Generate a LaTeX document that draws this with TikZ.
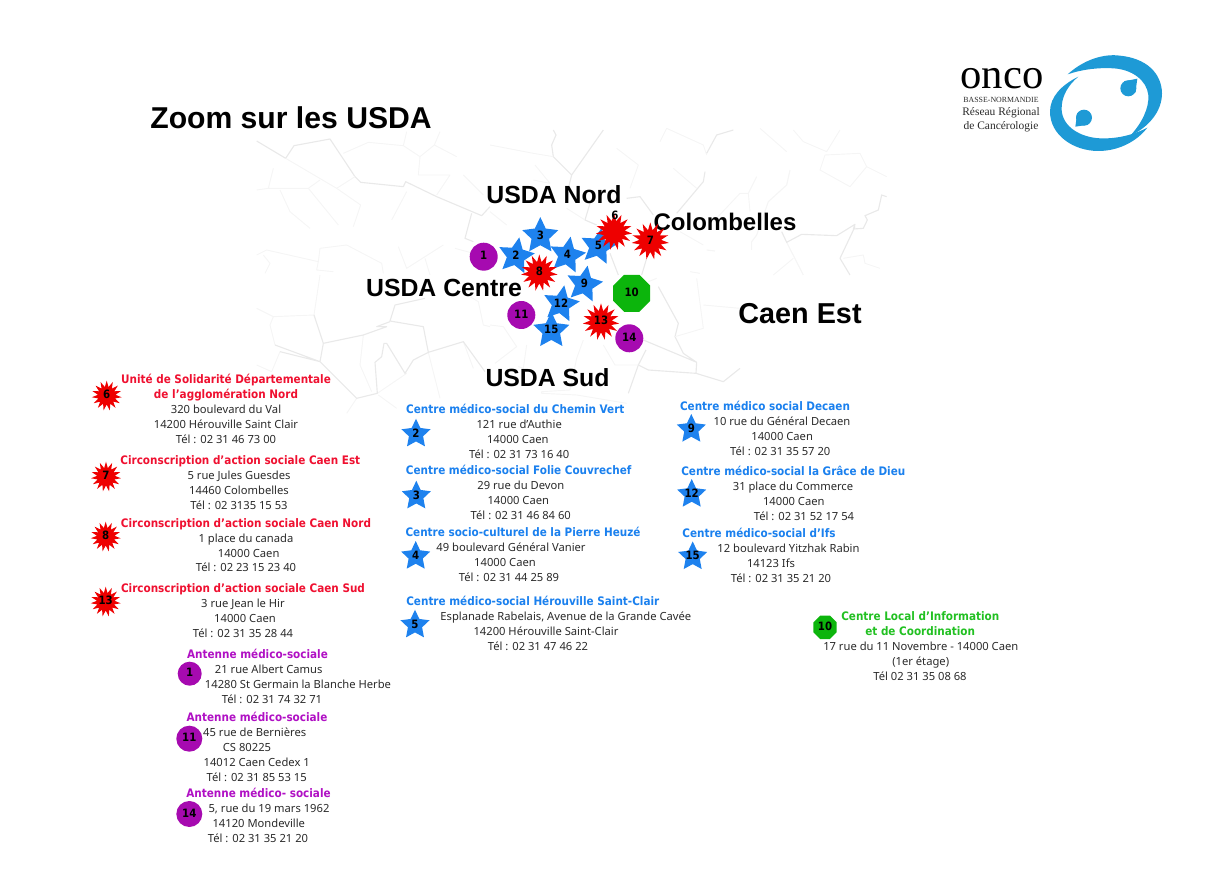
\documentclass[tikz,border=0pt]{standalone}
\usepackage{fontspec}
\setmainfont{Noto Sans}
\newfontfamily\arialfont{Liberation Sans}
\newfontfamily\timesfont{Liberation Serif}
\newfontfamily\headfont[FakeStretch=0.89]{DejaVu Sans}
\usetikzlibrary{shapes.geometric}
\definecolor{mstrong}{HTML}{E9E9E9}
\definecolor{mfaint}{HTML}{F5F5F5}
\definecolor{cblue}{HTML}{1E82EE}
\definecolor{cred}{HTML}{EE0000}
\definecolor{cpurple}{HTML}{A60AB0}
\definecolor{cgreen}{HTML}{0CB50C}
\definecolor{tred}{HTML}{EF1030}
\definecolor{tblue}{HTML}{1A80EE}
\definecolor{tpurple}{HTML}{B010C4}
\definecolor{tgreen}{HTML}{22C022}
\definecolor{body}{HTML}{2A2A2A}
\definecolor{logoc}{HTML}{1E9AD6}
\newcommand\nm[1]{\raisebox{-.5ex}[0pt][0pt]{\makebox[0pt]{#1}}}
\tikzset{
  mapstrong/.style={draw=mstrong,line width=.85pt,line join=round},
  mapfaint/.style={draw=mfaint,line width=.7pt,line join=round},
  tile/.style={x=.25pt,y=-.25pt},
  txt/.style={inner sep=0,outer sep=0,text height=7pt,text depth=2pt,anchor=center},
  bodyl/.style={txt,text=body,font=\fontsize{8.4}{10}\selectfont},
  headl/.style={txt,font=\headfont\bfseries\fontsize{8.8}{10}\selectfont},
  hred/.style={headl,text=tred},
  hblue/.style={headl,text=tblue},
  hpurple/.style={headl,text=tpurple},
  hgreen/.style={headl,text=tgreen},
  bigl/.style={inner sep=0,outer sep=0,text=black,font=\arialfont\bfseries\fontsize{18.6}{20}\selectfont},
  num/.style={text=black,font=\headfont\bfseries\fontsize{8.6}{8}\selectfont,inner sep=0,outer sep=0},
  bstar/.style={num,star,star points=5,star point ratio=2.05,fill=cblue,minimum size=#1},
  bstar/.default=28.4pt,
  rburst/.style={num,star,star points=15,star point ratio=1.7,fill=cred,minimum size=#1},
  rburst/.default=27.5pt,
  pdot/.style={num,circle,fill=cpurple,minimum size=#1},
  pdot/.default=21pt,
  goct/.style={num,regular polygon,regular polygon sides=8,fill=cgreen,minimum size=#1},
  goct/.default=30pt,
}
\newcommand\addrline[5][bodyl]{\node[#1] (#2) at (#3,#4) {#5};}
\begin{document}
\begin{tikzpicture}[x=.75pt,y=-.75pt]
\useasboundingbox (0,0) rectangle (1222,873);
% --- map background
\begin{scope}[shift={(240,125)},tile]
\draw[mapstrong] (50,48)--(137,100)--(162,62)--(270,42)--(345,155)--(362,172)--(490,185)--(497,170)--(590,215)--(725,272)--(750,245);
\draw[mapfaint] (137,100)--(290,190)--(362,240)--(340,305);
\draw[mapstrong] (695,265)--(675,340)--(700,350);
\draw[mapfaint] (100,130)--(85,190)--(50,195) (85,190)--(205,190)--(240,165) (120,195)--(150,260)--(210,310) (205,190)--(295,300) (290,190)--(345,155);
\draw[mapfaint] (310,85)--(385,52)--(490,62)--(540,95)--(583,60)--(650,95) (540,95)--(535,150)--(630,150)--(590,210) (670,150)--(730,210) (500,200)--(455,285) (583,60)--(600,20) (490,62)--(500,20);
\draw[mapfaint] (50,390)--(80,375)--(235,410)--(230,435)--(280,440) (235,410)--(240,370)--(320,360)--(425,415)--(430,445) (70,390)--(90,415)--(75,445) (475,365)--(500,430)--(610,360) (555,400)--(570,450) (645,370)--(700,385);
\end{scope}
\begin{scope}[shift={(490,125)},tile]
\draw[mapstrong] (190,15)--(198,30)--(185,60)--(190,95)--(245,150)--(340,15) (245,150)--(235,190) (410,220)--(450,215)--(490,270) (300,235)--(285,285)--(320,300);
\draw[mapfaint] (0,60)--(130,85)--(190,95) (135,120)--(180,175)--(130,165) (420,190)--(445,120)--(380,70) (550,130)--(620,190) (510,50)--(530,10)--(640,60)--(650,90) (230,250)--(285,285) (0,260)--(50,300);
\draw[mapstrong] (650,85)--(680,30)--(730,15) (645,140)--(640,170)--(560,265) (360,385)--(385,450) (470,400)--(455,450);
\end{scope}
\begin{scope}[shift={(680,125)},tile]
\draw[mapfaint] (240,10)--(320,80) (340,15)--(370,50)--(440,80)--(480,15) (435,90)--(540,85)--(560,125)--(510,185)--(420,135)--(435,90) (560,125)--(620,155) (230,155)--(205,205)--(210,260) (205,205)--(180,205)--(100,290) (490,400)--(550,390)--(555,415)--(600,430) (340,400)--(280,450) (0,320)--(70,360) (30,440)--(60,445);
\draw[mapfaint,line width=.85pt] (330,135)--(320,180)--(265,230)--(230,330)--(215,350)--(215,375) (320,352)--(370,450) (80,375)--(105,378);
\draw[mapstrong] (305,320)--(320,352)--(365,328)--(470,332)--(525,298)--(520,312)--(550,310)--(562,285)--(555,272)--(595,255)--(605,210)--(620,215) (525,305)--(480,400)--(510,450);
\end{scope}
\begin{scope}[shift={(240,275)},tile]
\draw[mapfaint] (50,100)--(100,125)--(222,120) (100,125)--(90,150)--(105,210) (240,0)--(222,120) (370,180)--(360,270)--(395,350) (412,355)--(500,295) (670,200)--(700,280) (565,232)--(600,370) (350,370)--(320,415) (690,65)--(715,80)--(730,150)--(750,155) (415,360)--(470,400) (120,230)--(95,290)--(50,270);
\draw[mapstrong] (222,120)--(250,205)--(240,260) (105,210)--(240,260) (120,230)--(240,260)--(350,370)--(412,355)--(405,262)--(425,245)--(432,205)--(440,205)--(495,295)--(520,255)--(565,232)--(550,155)--(450,138)--(465,90)--(555,70) (250,205)--(370,180)--(440,155)--(410,155)--(450,140) (565,232)--(670,200)--(735,290);
\end{scope}
\begin{scope}[shift={(490,275)},tile]
\draw[mapstrong] (505,35)--(565,145)--(555,185)--(580,235)--(620,262)--(618,295)--(700,320)--(750,280) (460,195)--(620,262) (468,225)--(445,270)--(475,285)--(618,295) (445,270)--(415,355);
\draw[mapfaint] (340,210)--(375,270)--(445,270) (280,195)--(260,250)--(240,345)--(155,350)--(155,355)--(260,360)--(410,385) (110,210)--(100,280)--(85,275) (0,150)--(40,155)--(80,215)--(15,265) (620,10)--(640,160)--(555,185) (640,90)--(750,100) (500,10)--(475,20);
\end{scope}
% --- logo
\begin{scope}[shift={(940,40)},tile]
\fill[logoc] (383,103) .. controls (430,60) and (490,40) .. (540,47) .. controls (620,55) and (665,100) .. (666,160) .. controls (666,215) and (625,262) .. (570,288) .. controls (605,250) and (628,205) .. (625,165) .. controls (620,120) and (575,88) .. (520,85) .. controls (470,82) and (420,90) .. (383,103) -- cycle;
\fill[logoc] (415,110) .. controls (365,135) and (330,170) .. (330,215) .. controls (330,285) and (400,333) .. (475,333) .. controls (535,333) and (590,305) .. (622,263) .. controls (580,285) and (530,297) .. (480,295) .. controls (420,292) and (368,260) .. (365,210) .. controls (363,170) and (385,135) .. (415,110) -- cycle;
\fill[logoc] (565,145) circle[radius=24];
\fill[logoc] (432,233) circle[radius=24];
\fill[logoc] (552,124) -- (592,116) -- (586,158) -- cycle;
\fill[logoc] (445,254) -- (406,260) -- (412,218) -- cycle;
\end{scope}
\node[inner sep=0,text=black,font=\timesfont\fontsize{32}{32}\selectfont] (logoa) at (1002,79) {onco};
\node[inner sep=0,text=body,font=\timesfont\fontsize{5.9}{6}\selectfont] (logob) at (1001,100) {BASSE-NORMANDIE};
\node[inner sep=0,text=body,font=\timesfont\fontsize{8.6}{9}\selectfont] (logoc) at (1001,113) {Réseau Régional};
\node[inner sep=0,text=body,font=\timesfont\fontsize{8.6}{9}\selectfont] (logod) at (1001,127) {de Cancérologie};
% --- big labels
\node[bigl,font=\arialfont\bfseries\fontsize{22.6}{24}\selectfont] (title) at (291,118) {Zoom sur les USDA};
\node[bigl] (lnord) at (554,195) {USDA Nord};
\node[bigl,font=\arialfont\bfseries\fontsize{18}{20}\selectfont] (lcol) at (725,222) {Colombelles};
\node[bigl] (lcent) at (444,288) {USDA Centre};
\node[bigl,font=\arialfont\bfseries\fontsize{21.6}{24}\selectfont] (lest) at (800,314) {Caen Est};
\node[bigl] (lsud) at (547.5,378) {USDA Sud};
% --- markers on the map
\node[pdot] (m1) at (483.7,256.7) {\nm{1}};
\node[bstar,shape border rotate=-10] (m2) at (516,256) {\nm{2}};
\node[bstar] (m3) at (540.3,236) {\nm{3}};
\node[bstar,shape border rotate=-10] (m4) at (567.3,255.3) {\nm{4}};
\node[bstar,shape border rotate=-10] (m5) at (598.3,246.7) {\nm{5}};
\node[rburst] (m6) at (614,231.7) {};
\node[num] (m6n) at (615,216.7) {\nm{6}};
\node[rburst=28pt] (m7) at (650.3,241) {\nm{7}};
\node[rburst] (m8) at (539.3,272.7) {\nm{8}};
\node[bstar,shape border rotate=-10] (m9) at (584.3,284.3) {\nm{9}};
\node[goct] (m10) at (631.7,293.3) {\nm{10}};
\node[pdot] (m11) at (521.3,315) {\nm{11}};
\node[bstar] (m15) at (551.3,330.7) {\nm{15}};
\node[bstar,shape border rotate=-10] (m12) at (561,304) {\nm{12}};
\node[rburst] (m13) at (601,321.7) {\nm{13}};
\node[pdot] (m14) at (629.3,338.3) {\nm{14}};
% --- legend markers
\node[rburst=22.5pt] (k6) at (106.7,395.7) {\nm{6}};
\node[rburst=22.5pt] (k7) at (106,476.7) {\nm{7}};
\node[rburst=22.5pt] (k8) at (105.7,536.7) {\nm{8}};
\node[rburst=22.5pt] (k13) at (105.7,601.7) {\nm{13}};
\node[pdot=18pt] (k1) at (189.7,673.7) {\nm{1}};
\node[pdot=19.5pt] (k11) at (189.3,738.7) {\nm{11}};
\node[pdot=19.5pt] (k14) at (189.3,814) {\nm{14}};
\node[bstar=22.9pt] (k2) at (416,434) {\nm{2}};
\node[bstar=22.9pt] (k3) at (416.3,496) {\nm{3}};
\node[bstar=22.9pt] (k4) at (415.7,556.3) {\nm{4}};
\node[bstar=22.9pt] (k5) at (415,625) {\nm{5}};
\node[bstar=22.9pt] (k9) at (691.3,429.3) {\nm{9}};
\node[bstar=22.9pt] (k12) at (691.7,494.3) {\nm{12}};
\node[bstar=22.9pt] (k15) at (692.7,556.7) {\nm{15}};
\node[goct=19pt] (k10) at (825,627.3) {\nm{10}};
% --- red column
\addrline[hred]{a6a}{226}{380}{Unité de Solidarité Départementale}
\addrline[hred]{a6b}{226}{395}{de l’agglomération Nord}
\addrline{a6c}{226}{410}{320 boulevard du Val}
\addrline{a6d}{226}{425}{14200 Hérouville Saint Clair}
\addrline{a6e}{226}{440}{Tél : 02 31 46 73 00}
\addrline[hred]{a7a}{240.3}{460.7}{Circonscription d’action sociale Caen Est}
\addrline{a7b}{239}{475.7}{5 rue Jules Guesdes}
\addrline{a7c}{239}{490.7}{14460 Colombelles}
\addrline{a7d}{239}{505.7}{Tél : 02 3135 15 53}
\addrline[hred]{a8a}{246}{523.7}{Circonscription d’action sociale Caen Nord}
\addrline{a8b}{246}{538.7}{1 place du canada}
\addrline{a8c}{248.7}{553.7}{14000 Caen}
\addrline{a8d}{246}{568.5}{Tél : 02 23 15 23 40}
\addrline[hred]{a13a}{243}{589.3}{Circonscription d’action sociale Caen Sud}
\addrline{a13b}{243}{604}{3 rue Jean le Hir}
\addrline{a13c}{245}{619}{14000 Caen}
\addrline{a13d}{243}{634}{Tél : 02 31 35 28 44}
% --- purple column
\addrline[hpurple]{a1a}{257.5}{654.7}{Antenne médico-sociale}
\addrline{a1b}{268.7}{669.7}{21 rue Albert Camus}
\addrline{a1c}{298}{684.7}{14280 St Germain la Blanche Herbe}
\addrline{a1d}{272}{699.7}{Tél : 02 31 74 32 71}
\addrline[hpurple]{a11a}{257}{717.7}{Antenne médico-sociale}
\addrline{a11b}{254.7}{733}{45 rue de Bernières}
\addrline{a11c}{247}{748}{CS 80225}
\addrline{a11d}{256.7}{763}{14012 Caen Cedex 1}
\addrline{a11e}{256.7}{778}{Tél : 02 31 85 53 15}
\addrline[hpurple]{a14a}{258.5}{793.7}{Antenne médico- sociale}
\addrline{a14b}{269}{809}{5, rue du 19 mars 1962}
\addrline{a14c}{258.8}{824}{14120 Mondeville}
\addrline{a14d}{258}{839}{Tél : 02 31 35 21 20}
% --- blue, first column
\addrline[hblue]{a2a}{515.3}{410.3}{Centre médico-social du Chemin Vert}
\addrline{a2b}{519.2}{425.3}{121 rue d’Authie}
\addrline{a2c}{517.8}{440}{14000 Caen}
\addrline{a2d}{519.2}{455}{Tél : 02 31 73 16 40}
\addrline[hblue]{a3a}{518.7}{471.3}{Centre médico-social Folie Couvrechef}
\addrline{a3b}{520.8}{486.3}{29 rue du Devon}
\addrline{a3c}{518.3}{501.3}{14000 Caen}
\addrline{a3d}{520.8}{516.3}{Tél : 02 31 46 84 60}
\addrline[hblue]{a4a}{523}{533}{Centre socio-culturel de la Pierre Heuzé}
\addrline{a4b}{511}{548}{49 boulevard Général Vanier}
\addrline{a4c}{505}{562.7}{14000 Caen}
\addrline{a4d}{509}{577.7}{Tél : 02 31 44 25 89}
\addrline[hblue]{a5a}{532.8}{602}{Centre médico-social Hérouville Saint-Clair}
\addrline{a5b}{565.8}{617}{Esplanade Rabelais, Avenue de la Grande Cavée}
\addrline{a5c}{546}{632}{14200 Hérouville Saint-Clair}
\addrline{a5d}{538}{647}{Tél : 02 31 47 46 22}
% --- blue, second column
\addrline[hblue]{a9a}{765}{406.7}{Centre médico social Decaen}
\addrline{a9b}{782}{421.7}{10 rue du Général Decaen}
\addrline{a9c}{782.2}{437}{14000 Caen}
\addrline{a9d}{780.3}{451.7}{Tél : 02 31 35 57 20}
\addrline[hblue]{a12a}{793.3}{472}{Centre médico-social la Grâce de Dieu}
\addrline{a12b}{793}{487}{31 place du Commerce}
\addrline{a12c}{793.8}{502}{14000 Caen}
\addrline{a12d}{804}{516.7}{Tél : 02 31 52 17 54}
\addrline[hblue]{a15a}{759}{534}{Centre médico-social d’Ifs}
\addrline{a15b}{788.5}{549}{12 boulevard Yitzhak Rabin}
\addrline{a15c}{771}{564}{14123 Ifs}
\addrline{a15d}{781}{579}{Tél : 02 31 35 21 20}
% --- green
\addrline[hgreen]{a10a}{920.3}{617}{Centre Local d’Information}
\addrline[hgreen]{a10b}{920.2}{632}{et de Coordination}
\addrline{a10c}{920.8}{647}{17 rue du 11 Novembre - 14000 Caen}
\addrline{a10d}{920.7}{662}{(1er étage)}
\addrline{a10e}{920}{677}{Tél 02 31 35 08 68}
\end{tikzpicture}
\end{document}
